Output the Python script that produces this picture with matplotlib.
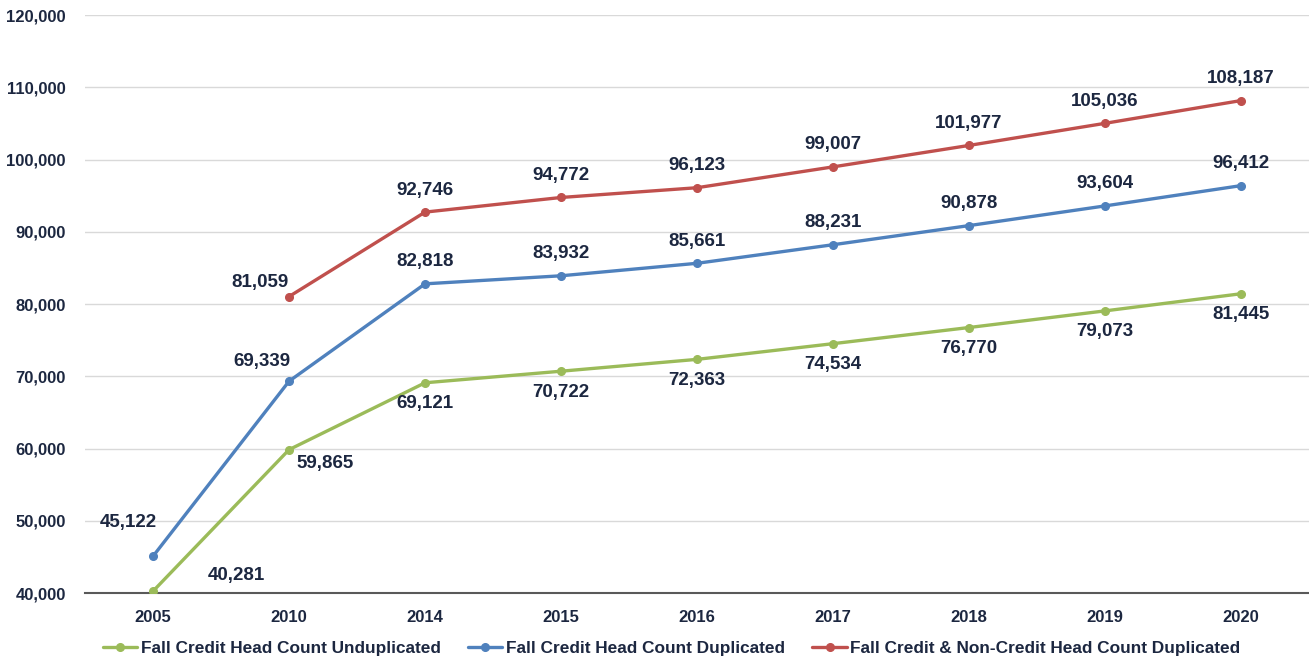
import matplotlib
matplotlib.use("Agg")
import matplotlib.pyplot as plt
from matplotlib.font_manager import fontManager
import numpy as np

years = ["2005", "2010", "2014", "2015", "2016", "2017", "2018", "2019", "2020"]
credit_unduplicated = [40281, 59865, 69121, 70722, 72363, 74534, 76770, 79073, 81445]
credit_duplicated = [45122, 69339, 82818, 83932, 85661, 88231, 90878, 93604, 96412]
credit_noncredit_duplicated = [np.nan, 81059, 92746, 94772, 96123, 99007, 101977, 105036, 108187]

series_names = [
    "Fall Credit Head Count Unduplicated",
    "Fall Credit Head Count Duplicated",
    "Fall Credit & Non-Credit Head Count Duplicated",
]
colors = ["#9bbb59", "#4f81bd", "#c0504d"]
text_color = "#1c2740"

names = {f.name for f in fontManager.ttflist}
narrow = "Liberation Sans Narrow" if "Liberation Sans Narrow" in names else "Liberation Sans"

fig = plt.figure(figsize=(13.09, 6.62), dpi=100)
ax = fig.add_axes([0.065, 0.104, 0.935, 0.873])

x = np.arange(len(years))
all_series = [credit_unduplicated, credit_duplicated, credit_noncredit_duplicated]
for vals, name, col in zip(all_series, series_names, colors):
    ax.plot(x, vals, color=col, lw=2.4, marker="o", ms=5.5, label=name,
            solid_capstyle="round", zorder=3)

# label offsets in pixels (dx, dy), per series and point
default_below = (0, -21)
default_above = (0, 22)
offsets = [
    [(83, 16), (36, -14)] + [default_below] * 7,
    [(-25, 34), (-27, 20)] + [default_above] * 7,
    [None, (-29, 14)] + [default_above] * 7,
]
for vals, offs in zip(all_series, offsets):
    for xi, v, off in zip(x, vals, offs):
        if np.isnan(v) or off is None:
            continue
        ax.annotate(f"{v:,.0f}", (xi, v), xytext=off, textcoords="offset pixels",
                    ha="center", va="center", fontsize=13.5, fontweight="bold",
                    color=text_color, family="Liberation Sans")

ax.set_xlim(-0.5, len(years) - 0.5)
ax.set_ylim(40000, 120000)
ax.set_yticks(np.arange(40000, 120001, 10000))
ax.yaxis.set_major_formatter(matplotlib.ticker.FuncFormatter(lambda v, p: f"{v:,.0f}"))
ax.set_xticks(x)
ax.set_xticklabels(years)

ax.grid(axis="y", color="#d9d9d9", lw=1)
ax.set_axisbelow(True)
for s in ["top", "right", "left"]:
    ax.spines[s].set_visible(False)
ax.spines["bottom"].set_color("#595959")
ax.spines["bottom"].set_linewidth(1.5)
ax.tick_params(axis="both", length=0)
ax.tick_params(axis="y", pad=14)
ax.tick_params(axis="x", pad=12)
for lab in ax.get_yticklabels():
    lab.set_family("Liberation Sans")
    lab.set_fontweight("bold")
    lab.set_fontsize(12)
    lab.set_color(text_color)
for lab in ax.get_xticklabels():
    lab.set_family(narrow)
    lab.set_fontweight("bold")
    lab.set_fontsize(12)
    lab.set_color(text_color)

leg = fig.legend(loc="lower center", bbox_to_anchor=(0.513, -0.015), ncol=3,
                 frameon=False, handlelength=2.0, handletextpad=0.2, columnspacing=1.6,
                 prop={"family": narrow, "weight": "bold", "size": 12.4})
for t in leg.get_texts():
    t.set_color(text_color)

fig.savefig("out.png", dpi=100)
